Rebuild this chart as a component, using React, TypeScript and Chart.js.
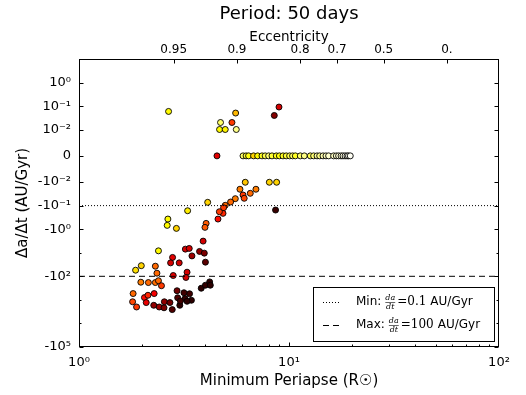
import React, { useEffect, useRef } from 'react';
import { Chart, Scale, registerables } from 'chart.js';

// ---------- data ----------
const chartTitle = 'Period: 50 days';
const xTitle = 'Minimum Periapse (R\u2609)';
const yTitle = '\u0394a/\u0394t (AU/Gyr)';
const topTitle = 'Eccentricity';

// minimum periapse (R_sun)
const periapse = [
  // positive rates
  2.67, 5.57, 8.96, 8.51, 4.72, 5.35, 4.67, 4.97, 5.61,
  // zero rates
  4.54, 6.04, 6.25, 6.42, 6.78, 7.09, 7.44, 7.7, 8.0, 8.3, 8.7, 9.0, 9.36, 9.7, 10.07, 10.4, 10.72,
  11.32, 11.83, 12.63, 13.1, 13.6, 14.0, 14.52, 15.0, 15.44, 16.31, 16.8, 17.23, 17.7, 18.08, 18.5,
  18.89, 19.2, 19.58,
  // negative rates
  6.19, 8.06, 8.73, 5.84, 6.96, 6.54, 6.04, 5.55, 6.12, 5.27, 4.97, 4.88, 4.85, 4.10, 8.63, 4.66,
  4.59, 3.29, 2.65, 2.63, 2.91, 4.03, 3.98, 3.90, 2.39, 3.21, 3.35, 3.75, 3.95, 3.45, 2.79, 2.73,
  3.00, 4.00, 1.98, 1.86, 2.31, 2.35, 3.27, 3.23, 2.81, 1.97, 2.14, 2.31, 2.39, 2.47, 1.81, 1.80,
  1.88, 2.05, 2.13, 2.28, 2.09, 2.27, 2.41, 2.55, 2.54, 2.78, 2.71, 2.93, 2.95, 3.02, 3.20, 3.36,
  3.43, 3.27, 3.82, 4.00, 4.19, 4.22, 3.04, 3.16,
];

// da/dt (AU/Gyr)
const dadt = [
  0.0595, 0.0508, 0.0916, 0.0402, 0.0202, 0.0202, 0.0102, 0.0102, 0.0102,
  0, 0, 0, 0, 0, 0, 0, 0, 0, 0, 0, 0, 0, 0, 0, 0, 0,
  0, 0, 0, 0, 0, 0, 0, 0, 0, 0, 0, 0, 0, 0, 0,
  0, 0, 0,
  -0.0102, -0.0102, -0.0102, -0.0202, -0.0202, -0.03, -0.0354, -0.0508, -0.0489, -0.0703, -0.097, -0.123, -0.213, -0.0724, -0.154, -0.182,
  -0.372, -0.165, -0.372, -0.689, -0.925, -0.567, -0.838, -3.21, -8.3, -7.03, -6.56, -8.81, -10.4, -13.6, -15.8, -26.9,
  -26.9, -25.1, -35.4, -55, -37.2, -73.8, -66.9, -112, -92.5, -178, -184, -184, -154, -251, -540, -1205,
  -2004, -798, -637, -540, -1303, -1698, -2004, -1205, -2168, -2588, -1303, -410, -815, -1698, -881, -550,
  -1040, -1148, -321, -239, -173, -239, -1114, -499,
];

// colour value (0 = dark, 1 = white) on a "hot" colour map
const heat = [
  0.74, 0.64, 0.30, 0.18, 0.85, 0.45, 0.74, 0.73, 0.88,
  0.32, 0.85, 0.8, 0.76, 0.68, 0.74, 0.78, 0.82, 0.86, 0.8, 0.77, 0.76, 0.78, 0.8, 0.82, 0.84, 0.78,
  0.85, 0.88, 0.83, 0.86, 0.9, 0.88, 0.92, 0.93, 0.95, 0.94, 0.95, 0.96, 0.96, 0.97, 0.98,
  0.98, 0.99, 0.99,
  0.66, 0.68, 0.68, 0.55, 0.55, 0.52, 0.45, 0.55, 0.47, 0.52, 0.52, 0.45, 0.42, 0.68, 0.07, 0.45,
  0.38, 0.72, 0.74, 0.74, 0.68, 0.5, 0.5, 0.3, 0.74, 0.3, 0.3, 0.2, 0.17, 0.22, 0.32, 0.3,
  0.3, 0.12, 0.68, 0.7, 0.52, 0.52, 0.3, 0.3, 0.32, 0.55, 0.52, 0.53, 0.52, 0.45, 0.52, 0.47,
  0.45, 0.38, 0.42, 0.35, 0.33, 0.2, 0.22, 0.2, 0.17, 0.1, 0.15, 0.15, 0.1, 0.05, 0.06, 0.08,
  0.05, 0.05, 0.05, 0.06, 0.05, 0.05, 0.08, 0.08,
];

const minRate = -0.1;
const maxRate = -100;
const legendLabels = ['Min:', 'Max:'];
const legendValues = ['0.1', '100'];

const xMin = 1;
const xMax = 100;
const yMin = -100000;
const yMax = 10;

const xTickValues = [1, 10, 100];
const xTickLabels = ['10\u2070', '10\u00b9', '10\u00b2'];
const xMinorMultipliers = [2, 3, 4, 5, 6, 7, 8, 9, 20, 30, 40, 50, 60, 70, 80, 90];

const yTickValues = [1, 0.1, 0.01, 0, -0.01, -0.1, -1, -100, -100000];
const yTickLabels = ['10\u2070', '10\u207b\u00b9', '10\u207b\u00b2', '0', '-10\u207b\u00b2', '-10\u207b\u00b9', '-10\u2070', '-10\u00b2', '-10\u2075'];
const yMinorTicks = [-10, -1000, -10000];

const eccTicks = [0.95, 0.9, 0.8, 0.7, 0.5, 0];
const eccLabels = ['0.95', '0.9', '0.8', '0.7', '0.5', '0.'];
const semiMajorAxis = 56.5; // R_sun, for a 50-day orbit

// ---------- symlog scale ----------
const LINTHRESH = 0.01;
const LINSCALE = 1 / (1 - 1 / 10);
function symlog(v: number) {
  const a = Math.abs(v);
  if (a <= LINTHRESH) return (v / LINTHRESH) * LINSCALE;
  return Math.sign(v) * (LINSCALE + Math.log10(a / LINTHRESH));
}
function invSymlog(t: number) {
  const a = Math.abs(t);
  if (a <= LINSCALE) return (t / LINSCALE) * LINTHRESH;
  return Math.sign(t) * LINTHRESH * Math.pow(10, a - LINSCALE);
}

class SymlogScale extends Scale {
  static id = 'symlog';
  static defaults = {};
  _sv = 0;
  _vr = 1;
  parse(raw: any) {
    const n = Number(raw);
    return isFinite(n) ? n : null;
  }
  determineDataLimits() {
    const { min, max } = (this as any).getMinMax(true);
    (this as any).min = isFinite(min) ? min : -1;
    (this as any).max = isFinite(max) ? max : 1;
  }
  buildTicks() {
    return yTickValues.map((v) => ({ value: v }));
  }
  configure() {
    super.configure();
    this._sv = symlog((this as any).min);
    this._vr = symlog((this as any).max) - this._sv;
  }
  getPixelForValue(value: number) {
    if (value === null || value === undefined || isNaN(value)) return NaN;
    return (this as any).getPixelForDecimal((symlog(value) - this._sv) / this._vr);
  }
  getValueForPixel(pixel: number) {
    return invSymlog(this._sv + (this as any).getDecimalForPixel(pixel) * this._vr);
  }
  getLabelForValue(value: number) {
    return String(value);
  }
}

Chart.register(...registerables, SymlogScale as any);

function hot(c: number) {
  const cl = (v: number) => Math.max(0, Math.min(1, v));
  const r = cl(0.0416 + (c / 0.365) * (1 - 0.0416));
  const g = cl((c - 0.365) / 0.381);
  const b = cl((c - 0.746) / 0.254);
  return `rgb(${Math.round(r * 255)},${Math.round(g * 255)},${Math.round(b * 255)})`;
}

const FONT = '"DejaVu Sans", sans-serif';
const DOT = [1, 2];
const DASH = [6, 4];

const decorPlugin = {
  id: 'decor',
  afterDraw(chart: any) {
    const { ctx, chartArea: a } = chart;
    const xs = chart.scales.x;
    const ys = chart.scales.y;
    const xt = chart.scales.x2;
    const L = Math.round(a.left) + 0.5;
    const R = Math.round(a.right) - 0.5;
    const T = Math.round(a.top) + 0.5;
    const B = Math.round(a.bottom) - 0.5;
    ctx.save();
    ctx.strokeStyle = '#000';
    ctx.lineWidth = 1;
    ctx.setLineDash([]);
    ctx.beginPath();
    const px = (v: number) => Math.min(R, Math.max(L, Math.round(v) + 0.5));
    for (const v of xTickValues) {
      const x = px(xs.getPixelForValue(v));
      ctx.moveTo(x, B); ctx.lineTo(x, B - 4);
    }
    for (const m of xMinorMultipliers) {
      const x = px(xs.getPixelForValue(m));
      ctx.moveTo(x, B); ctx.lineTo(x, B - 2);
    }
    for (const e of eccTicks) {
      const x = px(xt.getPixelForValue(semiMajorAxis * (1 - e)));
      ctx.moveTo(x, T); ctx.lineTo(x, T + 4);
    }
    for (const v of yTickValues) {
      const y = Math.round(ys.getPixelForValue(v)) + 0.5;
      ctx.moveTo(L, y); ctx.lineTo(L + 4, y);
      ctx.moveTo(R, y); ctx.lineTo(R - 4, y);
    }
    for (const v of yMinorTicks) {
      const y = Math.round(ys.getPixelForValue(v)) + 0.5;
      ctx.moveTo(L, y); ctx.lineTo(L + 2, y);
      ctx.moveTo(R, y); ctx.lineTo(R - 2, y);
    }
    ctx.stroke();
    ctx.strokeRect(L, T, R - L, B - T);

    // legend
    const bx = 313.5, by = 287.5, bw = 181, bh = 54;
    ctx.fillStyle = '#fff';
    ctx.fillRect(bx, by, bw, bh);
    ctx.strokeRect(bx, by, bw, bh);
    const rows = [302, 325];
    const dashes = [DOT, DASH];
    rows.forEach((ry, i) => {
      ctx.save();
      ctx.setLineDash(dashes[i]);
      ctx.strokeStyle = '#000';
      ctx.beginPath();
      ctx.moveTo(323, ry + 0.5);
      ctx.lineTo(341, ry + 0.5);
      ctx.stroke();
      ctx.restore();
      ctx.fillStyle = '#000';
      ctx.textBaseline = 'middle';
      ctx.textAlign = 'left';
      let x = 356;
      ctx.font = `12px ${FONT}`;
      ctx.fillText(legendLabels[i], x, ry);
      x += ctx.measureText(legendLabels[i]).width + 4;
      ctx.font = 'italic 8px "DejaVu Serif", serif';
      const fw = Math.max(ctx.measureText('da').width, ctx.measureText('dt').width);
      ctx.textAlign = 'center';
      ctx.fillText('da', x + fw / 2, ry - 4.5);
      ctx.fillText('dt', x + fw / 2, ry + 5);
      ctx.beginPath();
      ctx.lineWidth = 0.6;
      ctx.moveTo(x, ry + 0.5);
      ctx.lineTo(x + fw, ry + 0.5);
      ctx.stroke();
      ctx.lineWidth = 1;
      x += fw + 2;
      ctx.textAlign = 'left';
      ctx.font = '12px "DejaVu Serif", serif';
      const t = '=' + legendValues[i];
      ctx.fillText(t, x, ry);
      x += ctx.measureText(t).width + 4;
      ctx.font = `12px ${FONT}`;
      ctx.fillText('AU/Gyr', x, ry);
    });
    ctx.restore();
  },
};

export default function App() {
  const ref = useRef<HTMLCanvasElement | null>(null);
  useEffect(() => {
    if (!ref.current) return;
    const points = periapse.map((x, i) => ({ x, y: dadt[i] }));
    const chart = new Chart(ref.current, {
      type: 'scatter',
      data: {
        datasets: [
          {
            data: [{ x: xMin, y: minRate }, { x: xMax, y: minRate }],
            showLine: true,
            borderColor: '#000',
            borderWidth: 1,
            borderDash: DOT,
            pointRadius: 0,
          },
          {
            data: [{ x: xMin, y: maxRate }, { x: xMax, y: maxRate }],
            showLine: true,
            borderColor: '#000',
            borderWidth: 1,
            borderDash: DASH,
            pointRadius: 0,
          },
          {
            data: points,
            showLine: false,
            pointRadius: 3,
            pointBorderWidth: 0.9,
            pointBorderColor: '#000',
            pointBackgroundColor: heat.map(hot),
          },
        ],
      } as any,
      options: {
        responsive: false,
        animation: false,
        devicePixelRatio: 1,
        layout: { padding: { left: 0, right: 27, top: 0, bottom: 0 } },
        plugins: {
          legend: { display: false },
          tooltip: { enabled: false },
          title: {
            display: true,
            text: chartTitle,
            fullSize: false,
            color: '#000',
            font: { family: FONT, size: 18, weight: 'normal' },
            padding: { top: 4, bottom: 2 },
          },
        },
        scales: {
          x: {
            type: 'logarithmic',
            position: 'bottom',
            min: xMin,
            max: xMax,
            grid: { display: false, drawTicks: false },
            border: { display: false },
            afterBuildTicks: (s: any) => { s.ticks = xTickValues.map((v) => ({ value: v, major: true })); },
            afterFit: (s: any) => { s.height = 48; },
            ticks: {
              autoSkip: false,
              maxRotation: 0,
              padding: 8,
              color: '#000',
              font: { family: FONT, size: 13 },
              callback: (_v: any, i: number) => xTickLabels[i],
            },
            title: {
              display: true,
              text: xTitle,
              color: '#000',
              font: { family: FONT, size: 15 },
              padding: { top: 0, bottom: 5 },
            },
          },
          x2: {
            type: 'logarithmic',
            position: 'top',
            min: xMin,
            max: xMax,
            grid: { display: false, drawTicks: false },
            border: { display: false },
            afterBuildTicks: (s: any) => { s.ticks = eccTicks.map((e) => ({ value: semiMajorAxis * (1 - e) })); },
            afterFit: (s: any) => { s.height = 31.4; },
            ticks: {
              autoSkip: false,
              maxRotation: 0,
              padding: 2,
              color: '#000',
              font: { family: FONT, size: 12 },
              callback: (_v: any, i: number) => eccLabels[i],
            },
            title: {
              display: true,
              text: topTitle,
              color: '#000',
              font: { family: FONT, size: 13.5 },
              padding: { top: 1.3, bottom: 0 },
            },
          },
          y: {
            type: 'symlog' as any,
            position: 'left',
            min: yMin,
            max: yMax,
            grid: { display: false, drawTicks: false },
            border: { display: false },
            afterFit: (s: any) => { s.width = 79; },
            ticks: {
              autoSkip: false,
              padding: 8,
              color: '#000',
              font: { family: FONT, size: 13 },
              callback: (_v: any, i: number) => yTickLabels[i],
            },
            title: {
              display: true,
              text: yTitle,
              color: '#000',
              font: { family: FONT, size: 15 },
              padding: { top: 14, bottom: 0 },
            },
          } as any,
        },
      } as any,
      plugins: [decorPlugin],
    });
    return () => chart.destroy();
  }, []);
  return (
    <div style={{ position: 'absolute', left: 0, top: 0, width: 526, height: 395, background: '#fff' }}>
      <canvas ref={ref} width={526} height={395} style={{ display: 'block' }} />
    </div>
  );
}
